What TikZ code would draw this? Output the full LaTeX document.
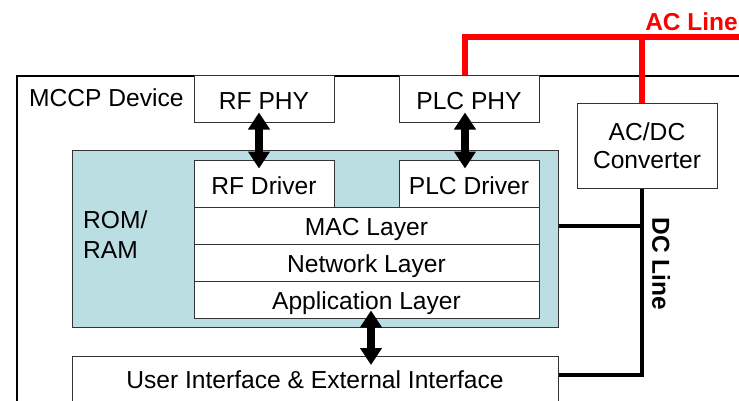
\documentclass[tikz,border=0pt]{standalone}
\usepackage{fontspec}
\setmainfont{Liberation Sans}
\usetikzlibrary{arrows.meta,calc}
\definecolor{teal}{RGB}{186,222,226}
\definecolor{acred}{RGB}{255,0,0}
\begin{document}
\begin{tikzpicture}[x=1pt,y=-1pt,
  box/.style={draw=black!80,line width=1pt,fill=white,inner sep=0pt,font=\fontsize{24.6}{29}\selectfont,text height=22pt,text depth=3pt},
  dblarrow/.style={line width=8pt,{Triangle[width=21pt,length=17pt]}-{Triangle[width=21pt,length=17pt]}},
  dcline/.style={line width=4pt},
  acline/.style={line width=6pt,draw=acred},
  lbl/.style={inner sep=0pt,font=\fontsize{24.6}{29}\selectfont}]
\useasboundingbox (0,0) rectangle (739,400);
\clip (0,0) rectangle (739,400);
% device
\node[draw,line width=2pt,anchor=north west,minimum width=760pt,minimum height=360pt,inner sep=0pt] (dev) at (16,75) {};
\node[lbl,anchor=base west] (devlbl) at (29,106) {MCCP Device};
% PHYs
\node[box,minimum width=140pt,minimum height=47pt,text height=23pt,text depth=2pt] (rfphy) at (264,98.5) {RF PHY};
\node[box,minimum width=140pt,minimum height=47pt,text height=23pt,text depth=2pt] (plcphy) at (469,98.5) {PLC PHY};
\node[draw=black!80,line width=1pt,fill=white,minimum width=140pt,minimum height=85pt,inner sep=0pt] (acdc) at (647,145.5) {};
\node[lbl,anchor=base,align=center,font=\fontsize{24.6}{28}\selectfont] (acdclbl) at (647,168) {AC/DC\\Converter};
% memory
\node[draw=black!80,line width=1pt,fill=teal,minimum width=486pt,minimum height=177pt,inner sep=0pt] (mem) at (315,238.5) {};
\node[lbl,anchor=base west,align=left,font=\fontsize{24.6}{30}\selectfont] (memlbl) at (83,258) {ROM/\\RAM};
\node[box,minimum width=140pt,minimum height=47pt,text height=23pt,text depth=2pt] (rfdrv) at (264,183.5) {RF Driver};
\node[box,minimum width=140pt,minimum height=47pt,text height=23pt,text depth=2pt] (plcdrv) at (469,183.5) {PLC Driver};
\node[box,minimum width=345pt,minimum height=37pt] (mac) at (366.5,225.5) {MAC Layer};
\node[box,minimum width=345pt,minimum height=37pt] (net) at (366.5,262.5) {Network Layer};
\node[box,minimum width=345pt,minimum height=37pt] (app) at (366.5,299.5) {Application Layer};
\node[draw=black!80,line width=1pt,fill=white,minimum width=486pt,minimum height=64pt,anchor=north,inner sep=0pt] (ui) at (315,356) {};
\node[lbl,anchor=base] (uilbl) at (315,388) {User Interface \& External Interface};
% arrows
\draw[dblarrow,shorten <=-10pt,shorten >=-9pt] ([xshift=-5pt]rfphy.south) -- ([xshift=-5pt]rfdrv.north);
\draw[dblarrow,shorten <=-10pt,shorten >=-9pt] ([xshift=-4pt]plcphy.south) -- ([xshift=-4pt]plcdrv.north);
\draw[dblarrow,shorten <=-8pt,shorten >=-9pt] ([xshift=4.5pt]app.south) -- ([xshift=4.5pt]app.south |- ui.north);
% AC line
\coordinate (acend) at (745,37);
\draw[acline] ([xshift=-4pt]plcphy.north) |- (acend);
\draw[acline] ([xshift=-5pt]acdc.north) -- ([xshift=-5pt]acdc.north |- acend);
\node[lbl,text=acred,font=\bfseries\fontsize{24.5}{28}\selectfont,anchor=base east] (aclbl) at (738,30) {AC Line};
% DC line
\coordinate (dcb) at ($(acdc.south)+(-5,186)$);
\draw[dcline] ([xshift=-5pt]acdc.south) -- (dcb) -- (dcb -| ui.east);
\draw[dcline] (mac.east -| mem.east) -- (mac.east -| dcb);
\node[lbl,font=\bfseries\fontsize{24.5}{28}\selectfont,rotate=-90] (dclbl) at (661,264) {DC Line};
\end{tikzpicture}
\end{document}
